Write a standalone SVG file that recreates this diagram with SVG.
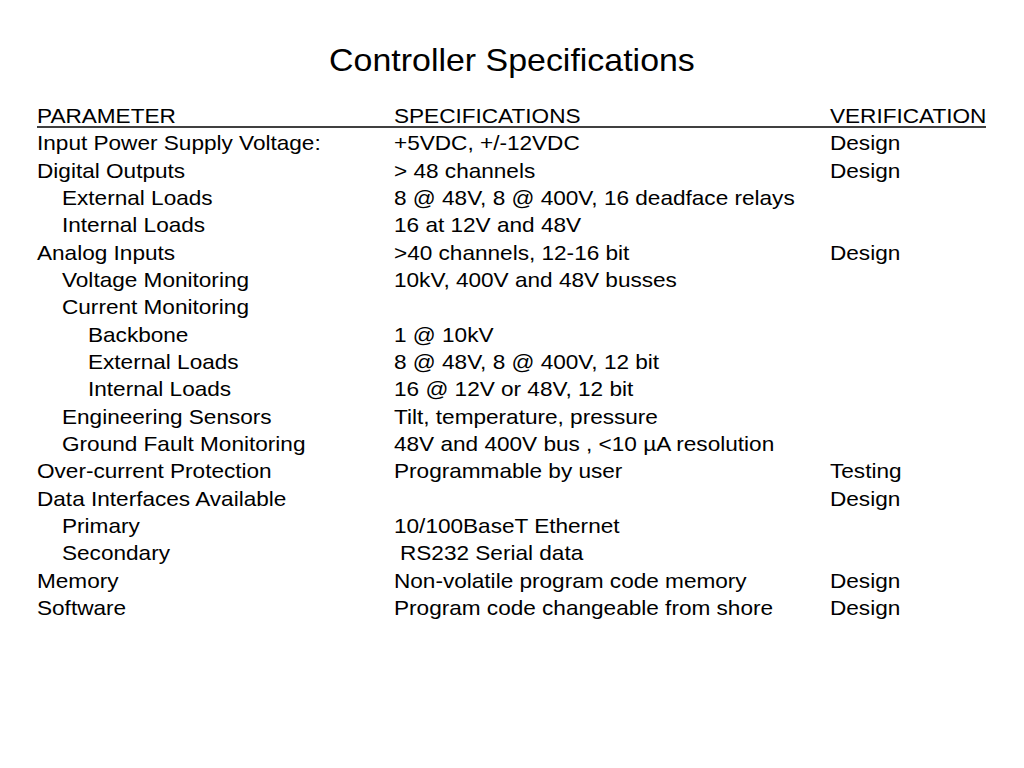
<svg xmlns="http://www.w3.org/2000/svg" width="1024" height="768" viewBox="0 0 1024 768">
<style>
text{font-family:"Liberation Sans",Arial,sans-serif;font-size:21px;fill:#000}
.t{font-size:32px}
</style>
<rect width="1024" height="768" fill="#fff"/>
<text class="t" x="483" y="71" text-anchor="middle" transform="scale(1.06,1)">Controller Specifications</text>
<line x1="37" y1="127" x2="986" y2="127" stroke="#000" stroke-width="1.5"/>
<g transform="scale(1.076,1)">
<text x="34.39" y="123">PARAMETER</text><text x="366.17" y="123">SPECIFICATIONS</text><text x="771.38" y="123">VERIFICATION</text>
<text x="34.39" y="150.3">Input Power Supply Voltage:</text><text x="366.17" y="150.3">+5VDC, +/-12VDC</text><text x="771.38" y="150.3">Design</text>
<text x="34.39" y="177.7">Digital Outputs</text><text x="366.17" y="177.7">&gt; 48 channels</text><text x="771.38" y="177.7">Design</text>
<text x="57.62" y="205">External Loads</text><text x="366.17" y="205">8 @ 48V, 8 @ 400V, 16 deadface relays</text>
<text x="57.62" y="232.3">Internal Loads</text><text x="366.17" y="232.3">16 at 12V and 48V</text>
<text x="34.39" y="259.7">Analog Inputs</text><text x="366.17" y="259.7">&gt;40 channels, 12-16 bit</text><text x="771.38" y="259.7">Design</text>
<text x="57.62" y="287">Voltage Monitoring</text><text x="366.17" y="287">10kV, 400V and 48V busses</text>
<text x="57.62" y="314.3">Current Monitoring</text>
<text x="81.78" y="341.7">Backbone</text><text x="366.17" y="341.7">1 @ 10kV</text>
<text x="81.78" y="369">External Loads</text><text x="366.17" y="369">8 @ 48V, 8 @ 400V, 12 bit</text>
<text x="81.78" y="396.3">Internal Loads</text><text x="366.17" y="396.3">16 @ 12V or 48V, 12 bit</text>
<text x="57.62" y="423.7">Engineering Sensors</text><text x="366.17" y="423.7">Tilt, temperature, pressure</text>
<text x="57.62" y="451">Ground Fault Monitoring</text><text x="366.17" y="451">48V and 400V bus , &lt;10 µA resolution</text>
<text x="34.39" y="478.3">Over-current Protection</text><text x="366.17" y="478.3">Programmable by user</text><text x="771.38" y="478.3">Testing</text>
<text x="34.39" y="505.7">Data Interfaces Available</text><text x="771.38" y="505.7">Design</text>
<text x="57.62" y="533">Primary</text><text x="366.17" y="533">10/100BaseT Ethernet</text>
<text x="57.62" y="560.3">Secondary</text><text x="371.75" y="560.3">RS232 Serial data</text>
<text x="34.39" y="587.7">Memory</text><text x="366.17" y="587.7">Non-volatile program code memory</text><text x="771.38" y="587.7">Design</text>
<text x="34.39" y="615">Software</text><text x="366.17" y="615">Program code changeable from shore</text><text x="771.38" y="615">Design</text>
</g>
</svg>
